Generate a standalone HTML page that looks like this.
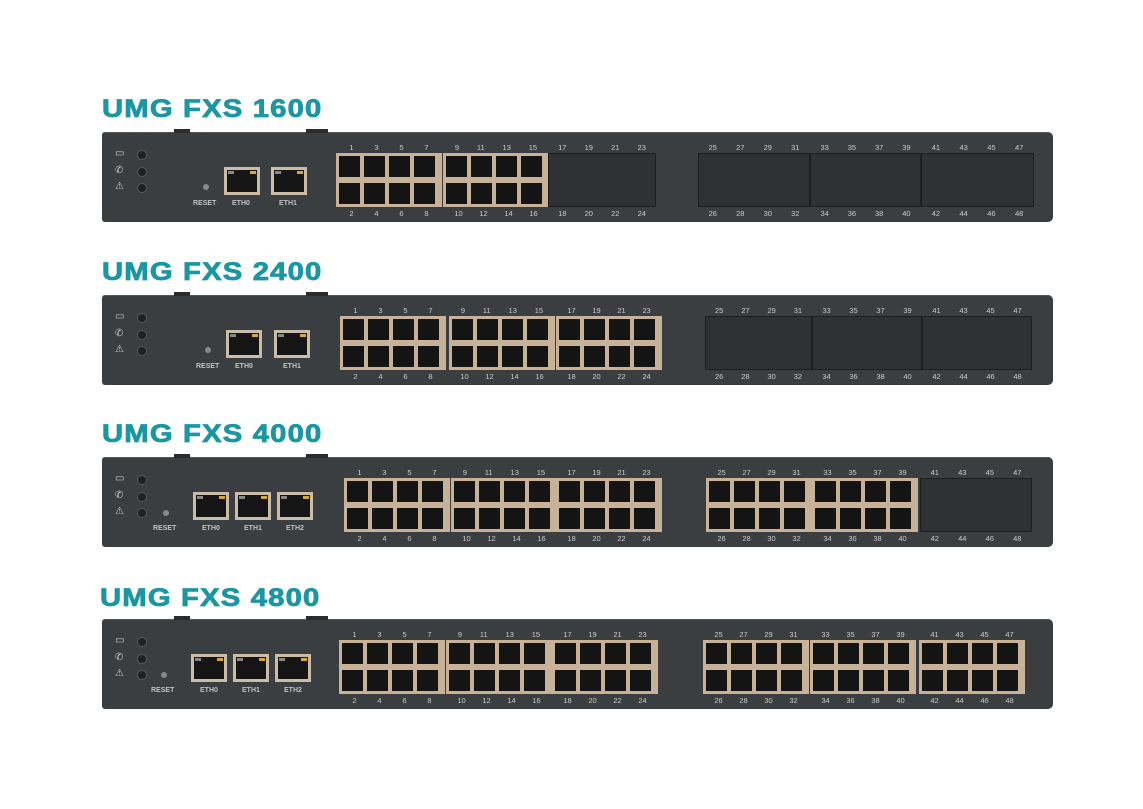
<!DOCTYPE html>
<html><head><meta charset="utf-8"><style>
body{margin:0;width:1143px;height:809px;background:#fff;position:relative;overflow:hidden;font-family:"Liberation Sans",sans-serif}
.ttl{position:absolute;color:#1a97a3;font-weight:bold;font-size:25px;line-height:26px;letter-spacing:1px;transform:scaleX(1.17);transform-origin:left center;white-space:nowrap;-webkit-text-stroke:0.8px #1a97a3}
.pn{position:absolute;left:102px;width:951px;height:90px;background:#3b3e41;border-radius:3px 5px 5px 3px;box-shadow:inset 0 1px 0 #55585b}
.tab{position:absolute;top:-3px;height:4px;background:#2a2c2e}
.blk,.mod{position:absolute;top:21px;height:54px;box-sizing:border-box}
.blk{width:106px;border:3px solid #c7b197;background:
linear-gradient(to bottom,transparent 0,transparent 21px,#c7b197 21px,#c7b197 27px,transparent 27px),
repeating-linear-gradient(90deg,#141414 0,#141414 21px,#c7b197 21px,#c7b197 25px)}
.mod{width:110px;background:#2f3235;border:1px solid #1c1e20}
.t,.b{position:absolute;left:0;right:0;display:flex;justify-content:space-around;font-size:7.5px;color:#c9c9c9}
.blk .t{top:-13px}.blk .b{bottom:-14px}
.mod .t{top:-11px}.mod .b{bottom:-12px}
.ico{position:absolute;left:13px;width:12px;height:10px;color:#c8c8c8;font-size:10px;line-height:10px}
.led{position:absolute;left:35px;width:8px;height:8px;border-radius:50%;background:#202020;border:1px solid #55585b}
.rst{position:absolute;width:6px;height:6px;border-radius:50%;background:#888}
.lbl{position:absolute;font-size:7px;color:#c0c0c0;font-weight:bold}
.eth{position:absolute;top:35px;width:36px;height:28px;box-sizing:border-box;border:3px solid #cbbca8;background:#151515}
.eth::before{content:"";position:absolute;left:1px;top:1px;width:6px;height:3px;background:#888}
.eth::after{content:"";position:absolute;right:1px;top:1px;width:6px;height:3px;background:#d6a83b}
</style></head><body>

<div class="ttl" style="left:102px;top:96px">UMG FXS 1600</div>
<div class="ttl" style="left:102px;top:259px">UMG FXS 2400</div>
<div class="ttl" style="left:102px;top:421px">UMG FXS 4000</div>
<div class="ttl" style="left:100px;top:585px">UMG FXS 4800</div>

<!-- Panel 1 -->
<div class="pn" style="top:132px">
<div class="tab" style="left:72px;width:16px"></div><div class="tab" style="left:204px;width:22px"></div>
<div class="ico" style="top:17px">▭</div><div class="ico" style="top:34px">✆</div><div class="ico" style="top:50px">⚠</div>
<div class="led" style="top:18px"></div><div class="led" style="top:35px"></div><div class="led" style="top:51px"></div>
<div class="rst" style="left:101px;top:52px"></div>
<div class="lbl" style="left:91px;top:68px">RESET</div>
<div class="eth" style="left:122px"></div><div class="eth" style="left:169px"></div>
<div class="lbl" style="left:130px;top:68px">ETH0</div><div class="lbl" style="left:177px;top:68px">ETH1</div>
<div class="blk" style="left:234px"><div class="t"><span>1</span><span>3</span><span>5</span><span>7</span></div><div class="b"><span>2</span><span>4</span><span>6</span><span>8</span></div></div>
<div class="blk" style="left:341px"><div class="t"><span>9</span><span>11</span><span>13</span><span>15</span></div><div class="b"><span>10</span><span>12</span><span>14</span><span>16</span></div></div>
<div class="mod" style="left:446px;width:108px"><div class="t"><span>17</span><span>19</span><span>21</span><span>23</span></div><div class="b"><span>18</span><span>20</span><span>22</span><span>24</span></div></div>
<div class="mod" style="left:596px;width:112px"><div class="t"><span>25</span><span>27</span><span>29</span><span>31</span></div><div class="b"><span>26</span><span>28</span><span>30</span><span>32</span></div></div>
<div class="mod" style="left:708px;width:111px"><div class="t"><span>33</span><span>35</span><span>37</span><span>39</span></div><div class="b"><span>34</span><span>36</span><span>38</span><span>40</span></div></div>
<div class="mod" style="left:819px;width:113px"><div class="t"><span>41</span><span>43</span><span>45</span><span>47</span></div><div class="b"><span>42</span><span>44</span><span>46</span><span>48</span></div></div>
</div>

<!-- Panel 2 -->
<div class="pn" style="top:295px">
<div class="tab" style="left:72px;width:16px"></div><div class="tab" style="left:204px;width:22px"></div>
<div class="ico" style="top:17px">▭</div><div class="ico" style="top:34px">✆</div><div class="ico" style="top:50px">⚠</div>
<div class="led" style="top:18px"></div><div class="led" style="top:35px"></div><div class="led" style="top:51px"></div>
<div class="rst" style="left:103px;top:52px"></div>
<div class="lbl" style="left:94px;top:68px">RESET</div>
<div class="eth" style="left:124px"></div><div class="eth" style="left:172px"></div>
<div class="lbl" style="left:133px;top:68px">ETH0</div><div class="lbl" style="left:181px;top:68px">ETH1</div>
<div class="blk" style="left:238px"><div class="t"><span>1</span><span>3</span><span>5</span><span>7</span></div><div class="b"><span>2</span><span>4</span><span>6</span><span>8</span></div></div>
<div class="blk" style="left:347px"><div class="t"><span>9</span><span>11</span><span>13</span><span>15</span></div><div class="b"><span>10</span><span>12</span><span>14</span><span>16</span></div></div>
<div class="blk" style="left:454px"><div class="t"><span>17</span><span>19</span><span>21</span><span>23</span></div><div class="b"><span>18</span><span>20</span><span>22</span><span>24</span></div></div>
<div class="mod" style="left:603px;width:107px"><div class="t"><span>25</span><span>27</span><span>29</span><span>31</span></div><div class="b"><span>26</span><span>28</span><span>30</span><span>32</span></div></div>
<div class="mod" style="left:710px"><div class="t"><span>33</span><span>35</span><span>37</span><span>39</span></div><div class="b"><span>34</span><span>36</span><span>38</span><span>40</span></div></div>
<div class="mod" style="left:820px"><div class="t"><span>41</span><span>43</span><span>45</span><span>47</span></div><div class="b"><span>42</span><span>44</span><span>46</span><span>48</span></div></div>
</div>

<!-- Panel 3 -->
<div class="pn" style="top:457px">
<div class="tab" style="left:72px;width:16px"></div><div class="tab" style="left:204px;width:22px"></div>
<div class="ico" style="top:17px">▭</div><div class="ico" style="top:34px">✆</div><div class="ico" style="top:50px">⚠</div>
<div class="led" style="top:18px"></div><div class="led" style="top:35px"></div><div class="led" style="top:51px"></div>
<div class="rst" style="left:61px;top:53px"></div>
<div class="lbl" style="left:51px;top:68px">RESET</div>
<div class="eth" style="left:91px"></div><div class="eth" style="left:133px"></div><div class="eth" style="left:175px"></div>
<div class="lbl" style="left:100px;top:68px">ETH0</div><div class="lbl" style="left:142px;top:68px">ETH1</div><div class="lbl" style="left:184px;top:68px">ETH2</div>
<div class="blk" style="left:242px"><div class="t"><span>1</span><span>3</span><span>5</span><span>7</span></div><div class="b"><span>2</span><span>4</span><span>6</span><span>8</span></div></div>
<div class="blk" style="left:349px"><div class="t"><span>9</span><span>11</span><span>13</span><span>15</span></div><div class="b"><span>10</span><span>12</span><span>14</span><span>16</span></div></div>
<div class="blk" style="left:454px"><div class="t"><span>17</span><span>19</span><span>21</span><span>23</span></div><div class="b"><span>18</span><span>20</span><span>22</span><span>24</span></div></div>
<div class="blk" style="left:604px"><div class="t"><span>25</span><span>27</span><span>29</span><span>31</span></div><div class="b"><span>26</span><span>28</span><span>30</span><span>32</span></div></div>
<div class="blk" style="left:710px"><div class="t"><span>33</span><span>35</span><span>37</span><span>39</span></div><div class="b"><span>34</span><span>36</span><span>38</span><span>40</span></div></div>
<div class="mod" style="left:818px;width:112px"><div class="t"><span>41</span><span>43</span><span>45</span><span>47</span></div><div class="b"><span>42</span><span>44</span><span>46</span><span>48</span></div></div>
</div>

<!-- Panel 4 -->
<div class="pn" style="top:619px">
<div class="tab" style="left:72px;width:16px"></div><div class="tab" style="left:204px;width:22px"></div>
<div class="ico" style="top:17px">▭</div><div class="ico" style="top:34px">✆</div><div class="ico" style="top:50px">⚠</div>
<div class="led" style="top:18px"></div><div class="led" style="top:35px"></div><div class="led" style="top:51px"></div>
<div class="rst" style="left:59px;top:53px"></div>
<div class="lbl" style="left:49px;top:68px">RESET</div>
<div class="eth" style="left:89px"></div><div class="eth" style="left:131px"></div><div class="eth" style="left:173px"></div>
<div class="lbl" style="left:98px;top:68px">ETH0</div><div class="lbl" style="left:140px;top:68px">ETH1</div><div class="lbl" style="left:182px;top:68px">ETH2</div>
<div class="blk" style="left:237px"><div class="t"><span>1</span><span>3</span><span>5</span><span>7</span></div><div class="b"><span>2</span><span>4</span><span>6</span><span>8</span></div></div>
<div class="blk" style="left:344px"><div class="t"><span>9</span><span>11</span><span>13</span><span>15</span></div><div class="b"><span>10</span><span>12</span><span>14</span><span>16</span></div></div>
<div class="blk" style="left:450px"><div class="t"><span>17</span><span>19</span><span>21</span><span>23</span></div><div class="b"><span>18</span><span>20</span><span>22</span><span>24</span></div></div>
<div class="blk" style="left:601px"><div class="t"><span>25</span><span>27</span><span>29</span><span>31</span></div><div class="b"><span>26</span><span>28</span><span>30</span><span>32</span></div></div>
<div class="blk" style="left:708px"><div class="t"><span>33</span><span>35</span><span>37</span><span>39</span></div><div class="b"><span>34</span><span>36</span><span>38</span><span>40</span></div></div>
<div class="blk" style="left:817px"><div class="t"><span>41</span><span>43</span><span>45</span><span>47</span></div><div class="b"><span>42</span><span>44</span><span>46</span><span>48</span></div></div>
</div>

</body></html>
